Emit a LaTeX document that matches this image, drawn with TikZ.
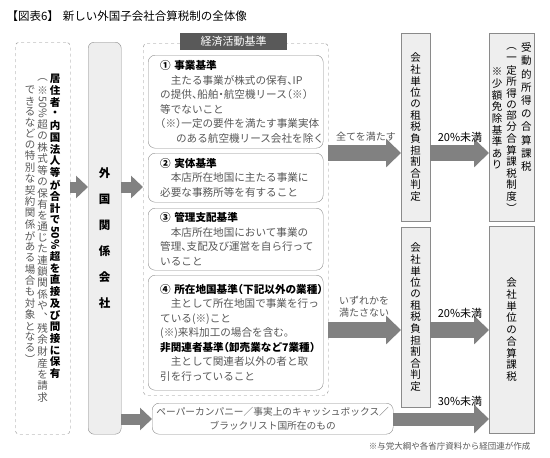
\documentclass[tikz,border=0pt]{standalone}
\usepackage{fontspec}
\setmainfont{Noto Sans CJK JP}
\newfontfamily\halfpunct{Noto Sans CJK JP}[RawFeature=+halt]
\usepackage{graphicx}
\usepackage{xcolor}
\usepackage{tikz}
\usetikzlibrary{arrows.meta,positioning}

\definecolor{flowgray}{HTML}{818181}
\definecolor{linegray}{HTML}{8A8A8A}
\definecolor{panelgray}{HTML}{EEEEEE}
\definecolor{inkgray}{HTML}{575757}
\definecolor{tabgray}{HTML}{595959}

% vertical columns: one cell per character
\newlength\tatepitch
\makeatletter
\def\tate@end{\tate@end@}
\newcommand\tate[1]{\tate@next#1\tate@end}
\def\tate@next#1{\ifx\tate@end#1\expandafter\@gobble\else\expandafter\@firstofone\fi
  {\tatechar{#1}\tate@next}}
\newcommand\tatechar[1]{\setbox0\hbox{#1}%
  \dimen0=\dimexpr\ht0+\dp0+2pt\relax
  \ifdim\dimen0<\tatepitch \dimen0=\tatepitch\fi
  \hbox to 1.1em{\hss\vbox to\dimen0{\vss\box0\vss}\hss}}
\newcommand\tatecol[2][11pt]{\vtop{\offinterlineskip\setlength\tatepitch{#1}\tate{#2}}}
\makeatother

\begin{document}
\begin{tikzpicture}[x=1pt,y=-1pt,
  dashbox/.style={draw=linegray,dashed,rounded corners=4pt,anchor=north west,inner sep=0pt},
  critbox/.style={draw=linegray,rounded corners=7pt,fill=white,anchor=north west,
    minimum width=175pt,text width=151pt,align=left,inner sep=0pt,text=inkgray,
    font=\halfpunct\fontsize{10.6}{14.5}\selectfont},
  panel/.style={draw=linegray,fill=panelgray,anchor=north west,inner sep=0pt},
  flow/.style={draw=flowgray,line width=16pt,-{Triangle[length=15pt,width=28pt]}},
  flowsmall/.style={draw=flowgray,line width=11pt,-{Triangle[length=12pt,width=22pt]}},
  note/.style={font=\fontsize{10}{12.5}\selectfont,text=inkgray,align=left},
  rate/.style={font=\fontsize{11}{13}\selectfont}]
  \useasboundingbox (0,0) rectangle (550,458);

  \node[anchor=west,font=\fontsize{11.5}{13}\selectfont] (title) at (3,16)
    {【図表6】\hspace{4pt}新しい外国子会社合算税制の全体像};

  % left column
  \node[dashbox,minimum width=55pt,minimum height=392pt,font=\fontsize{10.5}{12}\selectfont] (owners) at (15,42)
    {{\color{inkgray}\tatecol[10.8pt]{{\mbox{}}できるなどの特別な契約関係がある場合も対象となる︶}}\hspace{1pt}%
     {\color{inkgray}\tatecol[10.8pt]{︵※{\rotatebox{-90}{50\%}}超の株式等の保有を通じた連鎖関係や︑残余財産を請求}}\hspace{1pt}%
     {\bfseries\tatecol[10.8pt]{居住者・内国法人等が合計で{\rotatebox{-90}{50\%}}超を直接及び間接に保有}}};
  \node[panel,rounded corners=6pt,minimum width=33pt,minimum height=392pt,
    font=\fontsize{11.5}{13}\selectfont\bfseries] (fcorp) at (88,42) {\tatecol[26pt]{外国関係会社}};

  % economic activity criteria
  \node[dashbox,minimum width=185pt,minimum height=352pt] (econ) at (143,43) {};
  \node[fill=tabgray,text=white,anchor=north west,minimum width=107pt,minimum height=17pt,
    inner sep=0pt,font=\fontsize{11}{13}\selectfont] (tab) at (180,33) {経済活動基準};
  \node[critbox,minimum height=93pt] (crit1) at (148,55)
    {{\bfseries\color{black}①~事業基準}\\
     \hspace*{1em}主たる事業が株式の保有、IP\\
     の提供、船舶・航空機リース（※）\\
     等でないこと\\
     （※）一定の要件を満たす事業実体\\
     \hspace*{1.5em}のある航空機リース会社を除く};
  \node[critbox,minimum height=49pt] (crit2) at (148,153)
    {{\bfseries\color{black}②~実体基準}\\
     \hspace*{1em}本店所在地国に主たる事業に\\
     必要な事務所等を有すること};
  \node[critbox,minimum height=62pt] (crit3) at (148,208)
    {{\bfseries\color{black}③~管理支配基準}\\
     \hspace*{1em}本店所在地国において事業の\\
     管理、支配及び運営を自ら行って\\
     いること};
  \node[critbox,minimum height=115pt] (crit4) at (148,275)
    {{\bfseries\color{black}④~所在地国基準（下記以外の業種）}\\
     \hspace*{1em}主として所在地国で事業を行っ\\
     ている(※)こと\\
     (※)来料加工の場合を含む。\\
     {\bfseries\color{black}非関連者基準（卸売業など7業種）}\\
     \hspace*{1em}主として関連者以外の者と取\\
     引を行っていること};
  \node[draw=linegray,rounded corners=7pt,fill=white,anchor=north west,minimum width=241pt,
    minimum height=31pt,inner sep=0pt,align=center,text=inkgray,
    font=\fontsize{9.7}{13.5}\selectfont] (paper) at (152,403)
    {ペーパーカンパニー／事実上のキャッシュボックス／\\ブラックリスト国所在のもの};

  % tax burden test and results
  \node[panel,minimum width=29pt,minimum height=188pt,font=\fontsize{10.5}{12}\selectfont] (judgeA) at (401,33)
    {\tatecol[10.9pt]{会社単位の租税負担割合判定}};
  \node[panel,minimum width=29pt,minimum height=180pt,font=\fontsize{10.5}{12}\selectfont] (judgeB) at (401,227)
    {\tatecol[10.9pt]{会社単位の租税負担割合判定}};
  \node[panel,minimum width=45pt,minimum height=188pt,font=\fontsize{10.5}{12}\selectfont] (resA) at (489,33)
    {\tatecol[11.6pt]{{\mbox{}}{\mbox{}}※少額免除基準あり}\hspace{3pt}%
     \tatecol[10.2pt]{︵一定所得の部分合算課税制度︶}\hspace{3pt}%
     \tatecol[13.2pt]{受動的所得の合算課税}};
  \node[panel,minimum width=45pt,minimum height=207pt,font=\fontsize{10.5}{12}\selectfont] (resB) at (489,226)
    {\tatecol[11.75pt]{会社単位の合算課税}};

  \coordinate (rowL) at (0,187);
  \coordinate (rowA) at (0,153);
  \coordinate (rowB) at (0,330);
  \coordinate (rowP) at (0,419);

  \draw[flowsmall] (owners.east |- rowL) -- (fcorp.west |- rowL);
  \draw[flowsmall] (fcorp.east |- rowL) -- (econ.west |- rowL);
  \draw[flowsmall] (fcorp.east |- rowP) -- (paper.west |- rowP);
  \draw[flow] (econ.east |- rowA) -- (judgeA.west |- rowA);
  \draw[flow] (judgeA.east |- rowA) -- (resA.west |- rowA);
  \draw[flow] (econ.east |- rowB) -- (judgeB.west |- rowB);
  \draw[flow] (judgeB.east |- rowB) -- (resB.west |- rowB);
  \draw[flow,line width=13pt] (paper.east |- rowP) -- (resB.west |- rowP);

  \node[note] (allmet) at (366,137) {全てを満たす};
  \node[rate] (rateA) at (460,137) {20\%未満};
  \node[note] (anyfail) at (364,307) {いずれかを\\満たさない};
  \node[rate] (rateB) at (460,313) {20\%未満};
  \node[rate] (rateC) at (460,401) {30\%未満};
  \node[font=\fontsize{8.5}{10}\selectfont,text=inkgray,anchor=east] (source) at (534,446)
    {※与党大綱や各省庁資料から経団連が作成};
\end{tikzpicture}
\end{document}
